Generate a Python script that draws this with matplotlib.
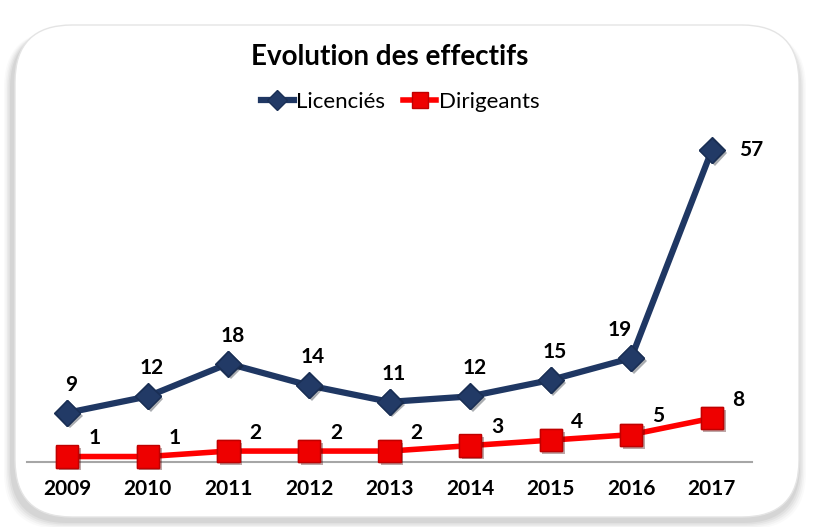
import matplotlib
matplotlib.use("Agg")
import matplotlib.pyplot as plt
from matplotlib.patches import FancyBboxPatch
import matplotlib.patheffects as pe

years = ["2009", "2010", "2011", "2012", "2013", "2014", "2015", "2016", "2017"]
licencies = [9, 12, 18, 14, 11, 12, 15, 19, 57]
dirigeants = [1, 1, 2, 2, 2, 3, 4, 5, 8]

plt.rcParams['font.family'] = ['Lato', 'DejaVu Sans']

fig = plt.figure(figsize=(8.14, 5.27), dpi=100)
fig.patch.set_facecolor('white')

W, H = 814, 527
# shadow layers for rounded frame (mostly left/bottom)
for i, a in enumerate([0.04, 0.05, 0.07, 0.09, 0.11]):
    d = 8 - i * 1.5
    p = FancyBboxPatch(((12 - d) / W, (6 - d) / H), (786 + 2 * d) / W, (490 + d) / H,
                       boxstyle="round,pad=0,rounding_size=0.07",
                       transform=fig.transFigure, facecolor='#808080', edgecolor='none',
                       alpha=a, mutation_aspect=W / H, zorder=0)
    fig.patches.append(p)
frame = FancyBboxPatch((15 / W, 10 / H), 784 / W, 492 / H,
                       boxstyle="round,pad=0,rounding_size=0.07",
                       transform=fig.transFigure, facecolor='white', edgecolor='#e4e4e4',
                       linewidth=1, mutation_aspect=W / H, zorder=0.5)
fig.patches.append(frame)

ax = fig.add_axes([27 / W, 1 - 462 / H, 725 / W, 328 / H])
ax.set_zorder(2)
ax.set_facecolor('none')
x = list(range(len(years)))

shadow = [pe.SimplePatchShadow(offset=(2, -2), alpha=0.35), pe.Normal()]
l1, = ax.plot(x, licencies, color='#1f3763', lw=4.5, marker='D', markersize=13,
              markerfacecolor='#223a66', markeredgecolor='#1a2f55', label='Licenciés',
              zorder=3, clip_on=False)
ax.plot(x, licencies, linestyle='none', marker='D', markersize=13,
        markerfacecolor='#223a66', markeredgecolor='#1a2f55',
        zorder=3.5, clip_on=False, path_effects=shadow)
l2, = ax.plot(x, dirigeants, color='#ff0000', lw=4, marker='s', markersize=16,
              markerfacecolor='#ee0000', markeredgecolor='#c00000', label='Dirigeants',
              zorder=4, clip_on=False)
ax.plot(x, dirigeants, linestyle='none', marker='s', markersize=16,
        markerfacecolor='#ee0000', markeredgecolor='#c00000',
        zorder=4.5, clip_on=False, path_effects=shadow)

for xi, v in zip(x, licencies):
    if v == 57:
        ax.annotate(str(v), (xi, v), xytext=(20, 0), textcoords='offset points',
                    ha='left', va='center', fontsize=15, fontweight='bold')
    elif xi == 7:
        ax.annotate(str(v), (xi, v), xytext=(-8, 13), textcoords='offset points',
                    ha='center', va='bottom', fontsize=15, fontweight='bold')
    else:
        ax.annotate(str(v), (xi, v), xytext=(3, 13), textcoords='offset points',
                    ha='center', va='bottom', fontsize=15, fontweight='bold')
for xi, v in zip(x, dirigeants):
    ax.annotate(str(v), (xi, v), xytext=(15, 6), textcoords='offset points',
                ha='left', va='bottom', fontsize=15, fontweight='bold')

ax.set_xlim(-0.5, 8.5)
ax.set_ylim(0, 60)
ax.set_xticks(x)
ax.set_xticklabels(years, fontsize=15, fontweight='bold')
ax.set_yticks([])
for s in ['top', 'right', 'left']:
    ax.spines[s].set_visible(False)
ax.spines['bottom'].set_color('#a6a6a6')
ax.spines['bottom'].set_linewidth(1.5)
ax.spines['bottom'].set_zorder(1)
ax.tick_params(axis='x', length=0, pad=12)

fig.text(390 / W, 1 - 57 / H, 'Evolution des effectifs', ha='center', va='center',
         fontsize=20, fontweight='bold')
fig.legend(handles=[l1, l2], loc='center', bbox_to_anchor=(400 / W, 1 - 102 / H),
           ncol=2, frameon=False, fontsize=16, handlelength=1.5, handletextpad=0.1,
           columnspacing=0.8, markerscale=0.75)

fig.savefig('out.png', dpi=100)
